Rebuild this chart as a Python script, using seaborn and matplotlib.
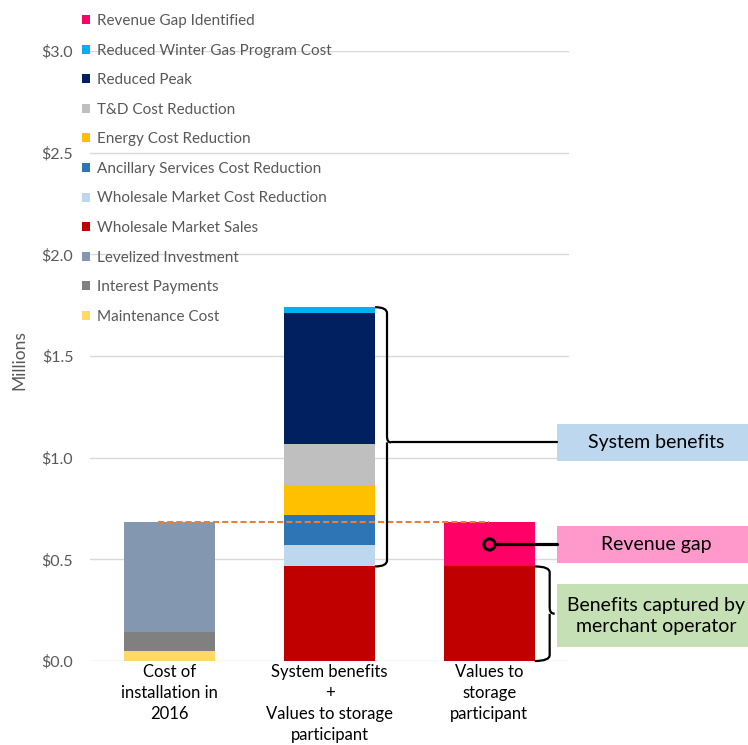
import numpy as np
import pandas as pd
import matplotlib
matplotlib.use("Agg")
import matplotlib.pyplot as plt
import seaborn as sns
from matplotlib.patches import Patch, Rectangle, PathPatch
from matplotlib.path import Path

# ------------------------------------------------------------
# Data (millions of $), stacking order bottom -> top
# ------------------------------------------------------------
categories = [
    "Cost of\ninstallation in\n2016",
    "System benefits\n+\nValues to storage\nparticipant",
    "Values to\nstorage\nparticipant",
]
maintenance_cost = [0.05, 0.0, 0.0]
interest_payments = [0.095, 0.0, 0.0]
levelized_investment = [0.54, 0.0, 0.0]
wholesale_market_sales = [0.0, 0.465, 0.465]
wholesale_cost_reduction = [0.0, 0.105, 0.0]
ancillary_cost_reduction = [0.0, 0.15, 0.0]
energy_cost_reduction = [0.0, 0.145, 0.0]
td_cost_reduction = [0.0, 0.20, 0.0]
reduced_peak = [0.0, 0.645, 0.0]
winter_gas_cost = [0.0, 0.03, 0.0]
revenue_gap = [0.0, 0.0, 0.22]

components = [
    ("Maintenance Cost", maintenance_cost, "#FFD966"),
    ("Interest Payments", interest_payments, "#808080"),
    ("Levelized Investment", levelized_investment, "#8497B0"),
    ("Wholesale Market Sales", wholesale_market_sales, "#C00000"),
    ("Wholesale Market Cost Reduction", wholesale_cost_reduction, "#BDD7EE"),
    ("Ancillary Services Cost Reduction", ancillary_cost_reduction, "#2E75B6"),
    ("Energy Cost Reduction", energy_cost_reduction, "#FFC000"),
    ("T&D Cost Reduction", td_cost_reduction, "#BFBFBF"),
    ("Reduced Peak", reduced_peak, "#002060"),
    ("Reduced Winter Gas Program Cost", winter_gas_cost, "#00B0F0"),
    ("Revenue Gap Identified", revenue_gap, "#FF0066"),
]

yticks = [0.0, 0.5, 1.0, 1.5, 2.0, 2.5, 3.0]

# ------------------------------------------------------------
# Style
# ------------------------------------------------------------
sns.set_style("white")
plt.rcParams["font.family"] = ["Lato", "DejaVu Sans"]

BAR_W = 0.57
fig = plt.figure(figsize=(7.48, 7.45), dpi=100)
ax = fig.add_axes([90 / 748, 1 - 661 / 745, 479 / 748, 610 / 745])

# cumulative tops per layer
vals = np.array([c[1] for c in components])
cum = np.cumsum(vals, axis=0)

# draw from the top layer down so lower layers sit over the cumulative bars
for i in range(len(components) - 1, -1, -1):
    name, v, color = components[i]
    top = np.where(np.array(v) > 0, cum[i], np.nan)
    df = pd.DataFrame({"cat": categories, "top": top})
    sns.barplot(data=df, x="cat", y="top", order=categories, color=color,
                saturation=1, width=BAR_W, linewidth=0, edgecolor="none",
                errorbar=None, ax=ax, zorder=2)

ax.set_xlim(-0.5, 2.5)
ax.set_ylim(0, 3.0)
ax.set_yticks(yticks)
ax.set_yticklabels([f"${t:.1f}" for t in yticks])
ax.yaxis.grid(True, color="#D9D9D9", lw=1)
ax.set_axisbelow(True)
sns.despine(ax=ax, left=True, bottom=True)
ax.tick_params(axis="y", length=0, pad=12, labelsize=11.5, labelcolor="#595959")
ax.tick_params(axis="x", length=0, pad=2, labelsize=12, labelcolor="black")
for lbl in ax.get_xticklabels():
    lbl.set_linespacing(1.4)
ax.set_xlabel("")
ax.set_ylabel("Millions", fontsize=12.5, color="#595959")
ax.yaxis.set_label_coords(-0.131, 0.493)

# dashed line at installation cost
install_total = cum[2][0]
ax.plot([-0.075, 2.0], [install_total, install_total], color="#ED7D31",
        lw=1.5, ls=(0, (2.9, 1.5)), zorder=3)

# ------------------------------------------------------------
# Braces and callouts
# ------------------------------------------------------------
XPU = 479 / 3.0   # px per x unit
YPU = 610 / 3.0   # px per y unit


def brace(x0, xv, xt, y0, y1, ym, r=6):
    ry = r / YPU
    verts = [
        (x0, y1), (xv, y1), (xv, y1 - ry),
        (xv, ym + ry),
        (xv, ym), (xt, ym),
        (xv, ym), (xv, ym - ry),
        (xv, y0 + ry),
        (xv, y0), (x0, y0),
    ]
    codes = [Path.MOVETO, Path.CURVE3, Path.CURVE3,
             Path.LINETO,
             Path.CURVE3, Path.CURVE3,
             Path.MOVETO, Path.CURVE3,
             Path.LINETO,
             Path.CURVE3, Path.CURVE3]
    ax.add_patch(PathPatch(Path(verts, codes), fill=False, ec="black",
                           lw=1.6, clip_on=False, zorder=4))


BOX_X = 2.424
BOX_X2 = 3.75
TEXT_X = 3.045

sys_bottom = cum[3][1]
sys_top = cum[9][1]
sys_y = 1.075
brace(1 + BAR_W / 2, 1 + BAR_W / 2 + 12 / XPU, 1 + BAR_W / 2 + 16 / XPU,
      sys_bottom, sys_top, sys_y)
ax.plot([1 + BAR_W / 2 + 16 / XPU, BOX_X], [sys_y, sys_y], color="black",
        lw=1.6, clip_on=False, zorder=4)

gap_y = cum[3][2] + revenue_gap[2] / 2
ax.plot([2, BOX_X], [gap_y, gap_y], color="black", lw=2.3,
        clip_on=False, zorder=4)
ax.plot([2], [gap_y], marker="o", ms=8, mfc="#FF0066", mec="black",
        mew=2.2, zorder=5)

ben_top = cum[3][2]
ben_y = ben_top / 2
brace(2 + BAR_W / 2, 2 + BAR_W / 2 + 15 / XPU, 2 + BAR_W / 2 + 20 / XPU,
      0.0, ben_top, ben_y)

boxes = [
    ("System benefits", sys_y, 37, "#BDD7EE"),
    ("Revenue gap", gap_y, 37, "#FF99CC"),
    ("Benefits captured by\nmerchant operator", ben_y - 0.01, 63, "#C5E0B4"),
]
for text, yc, hpx, fc in boxes:
    h = hpx / YPU
    ax.add_patch(Rectangle((BOX_X, yc - h / 2), BOX_X2 - BOX_X, h, fc=fc,
                           ec="none", clip_on=False, zorder=3))
    ax.text(TEXT_X, yc, text, ha="center", va="center", fontsize=14,
            color="black", linespacing=1.3, clip_on=False, zorder=4)

# ------------------------------------------------------------
# Legend (reverse stacking order, no frame)
# ------------------------------------------------------------
handles = [Patch(facecolor=c, edgecolor="none", label=n)
           for n, _, c in components[::-1]]
fig.legend(handles=handles, loc="upper left",
           bbox_to_anchor=(82 / 748, 1 - 14 / 745), frameon=False,
           fontsize=11, labelcolor="#595959", handlelength=0.52,
           handleheight=0.52, handletextpad=0.45, labelspacing=1.02,
           borderpad=0, borderaxespad=0)

fig.savefig("out.png", dpi=100)
